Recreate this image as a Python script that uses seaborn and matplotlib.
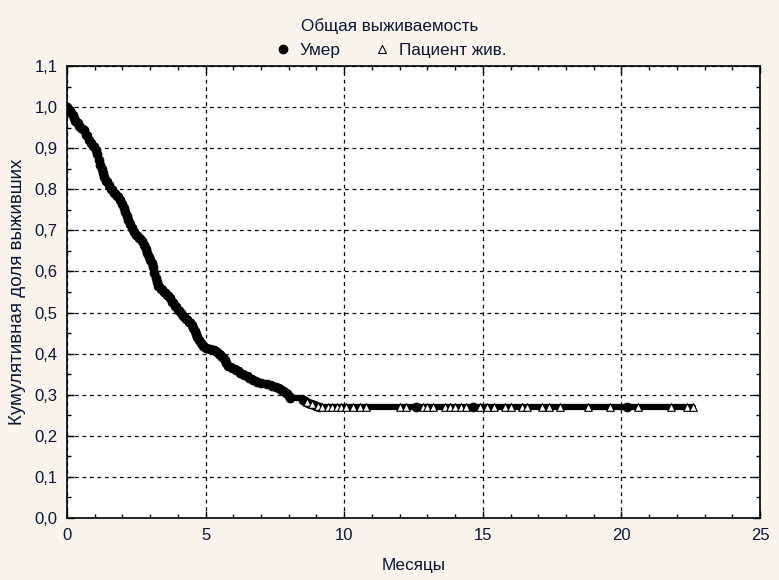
import numpy as np
import pandas as pd
import matplotlib
matplotlib.use("Agg")
import matplotlib.pyplot as plt
import seaborn as sns
from matplotlib.lines import Line2D
from matplotlib.ticker import MultipleLocator, FuncFormatter

# время смерти (месяцы) и кумулятивная доля выживших после события
death_t = [0.0, 0.05, 0.1, 0.15, 0.2, 0.25, 0.3, 0.38, 0.45, 0.52, 0.6, 0.7, 0.8,
           0.88, 0.95, 1.05, 1.1, 1.15, 1.2, 1.25, 1.3, 1.35, 1.4, 1.5, 1.6, 1.7,
           1.8, 1.9, 2.0, 2.05, 2.1, 2.15, 2.2, 2.28, 2.35, 2.42, 2.5, 2.6, 2.7,
           2.78, 2.85, 2.9, 2.95, 3.0, 3.05, 3.1, 3.15, 3.2, 3.25, 3.3, 3.4, 3.5,
           3.6, 3.7, 3.8, 3.9, 4.0, 4.1, 4.2, 4.3, 4.4, 4.5, 4.55, 4.6, 4.65, 4.7,
           4.78, 4.85, 4.92, 5.0, 5.15, 5.3, 5.4, 5.5, 5.6, 5.7, 5.75, 5.8, 5.95,
           6.1, 6.25, 6.4, 6.55, 6.7, 6.85, 7.0, 7.2, 7.4, 7.55, 7.7, 7.8, 7.9,
           8.0, 8.05, 8.5, 8.6, 8.7, 8.8, 8.9, 9.0, 9.1, 12.6, 14.65, 20.2]
death_s = [1.0, 0.995, 0.99, 0.985, 0.98, 0.973, 0.967, 0.961, 0.955, 0.95, 0.945,
           0.932, 0.92, 0.912, 0.905, 0.895, 0.885, 0.872, 0.86, 0.85, 0.84, 0.83,
           0.82, 0.81, 0.80, 0.792, 0.785, 0.775, 0.765, 0.755, 0.745, 0.735,
           0.725, 0.715, 0.705, 0.697, 0.69, 0.682, 0.675, 0.665, 0.655, 0.645,
           0.635, 0.627, 0.62, 0.61, 0.597, 0.585, 0.575, 0.565, 0.557, 0.55,
           0.542, 0.535, 0.525, 0.515, 0.507, 0.50, 0.492, 0.485, 0.477, 0.47,
           0.462, 0.455, 0.447, 0.44, 0.432, 0.425, 0.419, 0.413, 0.411, 0.41,
           0.405, 0.40, 0.393, 0.385, 0.377, 0.37, 0.365, 0.36, 0.354, 0.348,
           0.341, 0.335, 0.331, 0.328, 0.325, 0.322, 0.318, 0.315, 0.31, 0.305,
           0.298, 0.292, 0.287, 0.284, 0.28, 0.278, 0.275, 0.272, 0.27, 0.27,
           0.27, 0.27]

# цензурированные наблюдения (пациент жив)
cens_t = [8.65, 8.85, 9.05, 9.2, 9.4, 9.55, 9.75, 9.9, 10.05, 10.33, 10.57, 10.79,
          12.01, 12.23, 12.83, 13.0, 13.19, 13.64, 13.82, 14.0, 14.2, 14.39,
          14.9, 15.16, 15.4, 15.8, 16.0, 16.4, 16.6, 17.12, 17.4, 17.78, 18.8,
          19.59, 20.61, 21.78, 22.36, 22.57]
cens_s = [0.282, 0.278, 0.272, 0.27, 0.27, 0.27, 0.27, 0.27, 0.27, 0.27, 0.27, 0.27,
          0.27, 0.27, 0.27, 0.27, 0.27, 0.27, 0.27, 0.27, 0.27, 0.27,
          0.27, 0.27, 0.27, 0.27, 0.27, 0.27, 0.27, 0.27, 0.27, 0.27, 0.27,
          0.27, 0.27, 0.27, 0.27, 0.27]

deaths = pd.DataFrame({"t": death_t, "s": death_s})
cens = pd.DataFrame({"t": cens_t, "s": cens_s})
curve = pd.concat([deaths, cens]).sort_values("t").drop_duplicates("t")
curve["s"] = curve["s"].cummin()

bg = "#f9f5ed"
txt = "#0a1530"

sns.set_theme(style="ticks")
plt.rcParams["font.family"] = ["Liberation Sans", "DejaVu Sans"]

fig = plt.figure(figsize=(7.79, 5.8), dpi=100, facecolor=bg)
ax = fig.add_axes([0.086, 0.107, 0.8896, 0.779])
ax.set_facecolor("white")

sns.lineplot(data=curve, x="t", y="s", drawstyle="steps-post", estimator=None,
             color="black", linewidth=4.5, ax=ax, zorder=3)
sns.scatterplot(data=deaths, x="t", y="s", marker="o", s=42, color="black",
                edgecolor="black", ax=ax, zorder=4)
sns.scatterplot(data=cens, x="t", y="s", marker="^", s=30, facecolor="white",
                edgecolor="black", linewidth=0.8, ax=ax, zorder=5)

ax.set_xlim(0, 25)
ax.set_ylim(0, 1.1)
ax.xaxis.set_major_locator(MultipleLocator(5))
ax.xaxis.set_minor_locator(MultipleLocator(1))
ax.yaxis.set_major_locator(MultipleLocator(0.1))
ax.yaxis.set_minor_locator(MultipleLocator(0.05))
ax.yaxis.set_major_formatter(FuncFormatter(lambda v, p: f"{v:.1f}".replace(".", ",")))
ax.tick_params(which="both", direction="in", top=True, right=True, colors="black",
               labelcolor=txt, labelsize=12, width=1)
ax.tick_params(which="major", length=5, pad=7)
ax.tick_params(which="minor", length=3)
for sp in ax.spines.values():
    sp.set_color("black")
    sp.set_linewidth(1.2)

ax.grid(True, which="major", color="black", linestyle=(0, (3, 3)), linewidth=0.9)
ax.set_axisbelow(True)

ax.set_xlabel("Месяцы", fontsize=12.3, color=txt, labelpad=11)
ax.set_ylabel("Кумулятивная доля выживших", fontsize=13.5, color=txt, labelpad=6)

handles = [Line2D([], [], marker="o", linestyle="none", color="black", markersize=6),
           Line2D([], [], marker="^", linestyle="none", markerfacecolor="white",
                  markeredgecolor="black", markersize=5.5, markeredgewidth=0.8)]
leg = fig.legend(handles, ["Умер", "Пациент жив."], title="Общая выживаемость",
                 loc="upper center", bbox_to_anchor=(0.5, 0.995), ncol=2,
                 frameon=False, fontsize=12.3, title_fontsize=12.3,
                 handletextpad=0.4, columnspacing=1.8, handlelength=1.2)
for t in leg.get_texts():
    t.set_color(txt)
leg.get_title().set_color(txt)

fig.savefig("out.png", dpi=100, facecolor=bg)
